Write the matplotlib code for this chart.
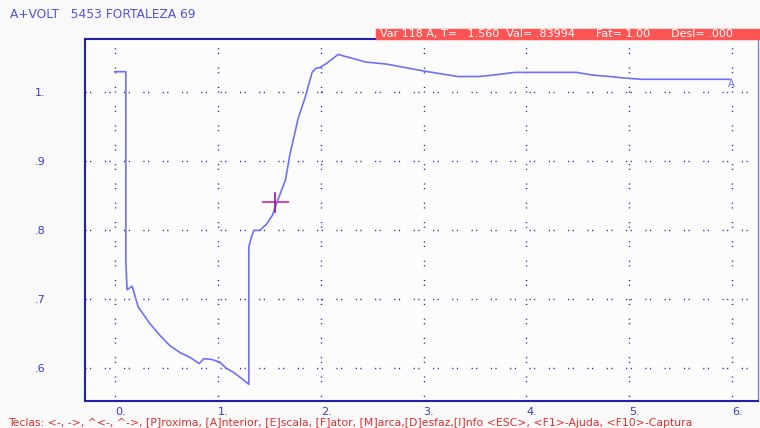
import matplotlib

matplotlib.use("Agg")
import matplotlib.pyplot as plt

# curve (time, value)
t = [0.0, 0.107, 0.107, 0.119, 0.168, 0.227, 0.340, 0.437, 0.534, 0.632, 0.729,
     0.820, 0.865, 0.940, 1.020, 1.085, 1.166, 1.302, 1.302, 1.328, 1.351, 1.409,
     1.474, 1.532, 1.571, 1.658, 1.700, 1.781, 1.852, 1.917, 1.953, 1.992, 2.057,
     2.170, 2.218, 2.440, 2.640, 3.003, 3.207, 3.336, 3.547, 3.725, 3.887, 4.487,
     4.648, 4.810, 4.940, 5.118, 5.977]
v = [1.029, 1.029, 0.754, 0.713, 0.718, 0.688, 0.664, 0.647, 0.632, 0.622, 0.615,
     0.606, 0.613, 0.612, 0.608, 0.599, 0.592, 0.576, 0.775, 0.790, 0.799, 0.799,
     0.808, 0.821, 0.838, 0.872, 0.908, 0.961, 0.993, 1.028, 1.034, 1.035, 1.041,
     1.054, 1.052, 1.043, 1.040, 1.030, 1.025, 1.022, 1.022, 1.025, 1.028, 1.028,
     1.024, 1.022, 1.020, 1.018, 1.018]

x_ticks = [0, 1, 2, 3, 4, 5, 6]
x_labels = ["0.", "1.", "2.", "3.", "4.", "5.", "6."]
y_ticks = [0.6, 0.7, 0.8, 0.9, 1.0]
y_labels = [".6", ".7", ".8", ".9", "1."]

cursor_t = 1.560
cursor_v = 0.83994

BLUE = "#3a3ac8"
LINE = "#7070f6"
RED = "#ff5454"

fig = plt.figure(figsize=(7.6, 4.28), dpi=100, facecolor="#f9f9f9")
ax = fig.add_axes([85 / 760, 1 - 401 / 428, 673 / 760, 362 / 428])
ax.set_facecolor("#fcfcfc")
ax.set_xlim(-0.29, 6.25)
ax.set_ylim(0.5517, 1.0764)

# dotted-pair grid like the DOS screen
grid_ls = (0, (0.8, 2.5, 0.8, 9.8))
for xt in x_ticks:
    ax.axvline(xt, color="#1a1a9a", lw=1.0, ls=grid_ls, zorder=1)
for yt in y_ticks:
    ax.axhline(yt, color="#1a1a9a", lw=1.0, ls=grid_ls, zorder=1)

ax.plot(t, v, color=LINE, lw=1.2, zorder=3)

# cursor cross
dx, dy = 0.12, 0.0138
ax.plot([cursor_t - dx, cursor_t + dx], [cursor_v, cursor_v], color="#c050c0", lw=1.5, zorder=4)
ax.plot([cursor_t, cursor_t], [cursor_v - dy, cursor_v + dy], color="#a0109a", lw=1.2, zorder=4)

ax.text(t[-1] + 0.01, v[-1], "A", color=LINE, fontsize=7, ha="center", va="top")

ax.set_xticks(x_ticks)
ax.set_xticklabels(x_labels, ha="left")
ax.set_yticks(y_ticks)
ax.set_yticklabels(y_labels, ha="left")
ax.tick_params(axis="both", length=0, colors=BLUE, labelsize=8)
ax.tick_params(axis="x", pad=4)
ax.tick_params(axis="y", pad=36)

for side in ["left", "top", "bottom"]:
    ax.spines[side].set_color("#2020a8")
    ax.spines[side].set_linewidth(1.5)
ax.spines["right"].set_color("#8080e0")
ax.spines["right"].set_linewidth(1.0)

fig.text(10 / 760, 1 - 14 / 428, "A+VOLT   5453 FORTALEZA 69", color="#5252e0",
         fontsize=8.8, va="center")

# red status bar
fig.patches.append(plt.Rectangle((376 / 760, 1 - 39 / 428), 384 / 760, 10 / 428,
                                 transform=fig.transFigure, color=RED, zorder=0))
fig.text(380 / 760, 1 - 34.5 / 428,
         f"Var 118 A, T=   {cursor_t:.3f}  Val= .{round(cursor_v * 1e5):05d}"
         "      Fat= 1.00      Desl= .000",
         color="white", fontsize=8, va="center")

fig.text(8 / 760, 1 - 423 / 428,
         "Teclas: <-, ->, ^<-, ^->, [P]roxima, [A]nterior, [E]scala, [F]ator, "
         "[M]arca,[D]esfaz,[I]nfo <ESC>, <F1>-Ajuda, <F10>-Captura",
         color="#e03030", fontsize=7.8, va="center")

fig.savefig("out.png", dpi=100, facecolor=fig.get_facecolor())
